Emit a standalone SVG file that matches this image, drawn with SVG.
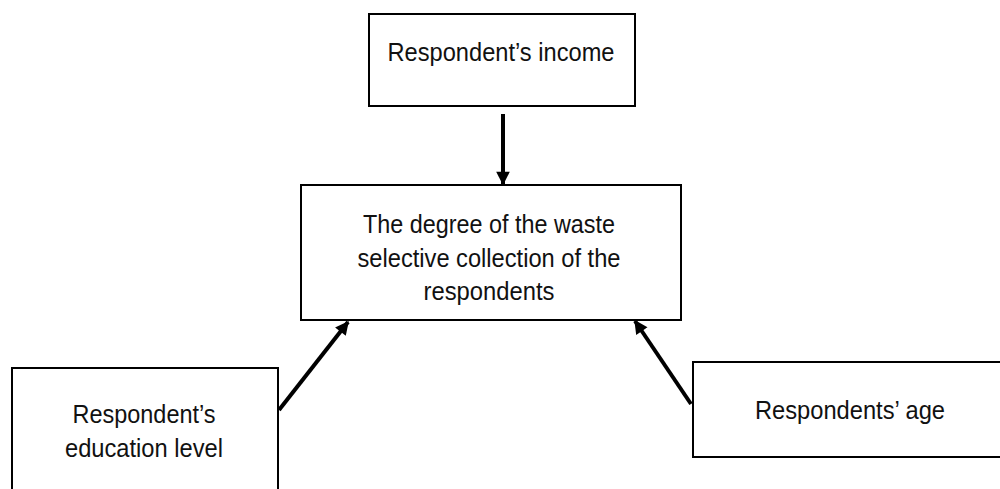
<svg xmlns="http://www.w3.org/2000/svg" width="1000" height="489" viewBox="0 0 1000 489">
<style>
.box{fill:#fff;stroke:#000;stroke-width:2}
.t{font-family:"Liberation Sans",Arial,sans-serif;font-size:26px;fill:#111;text-anchor:middle}
.c{stroke:#000;stroke-width:4;fill:none}
</style>
<defs>
<marker id="ah" viewBox="0 0 10 10" refX="9" refY="5" markerWidth="3.6" markerHeight="3.4" markerUnits="strokeWidth" orient="auto">
<path d="M0,0 L10,5 L0,10 z" fill="#000"/>
</marker>
</defs>
<rect width="1000" height="489" fill="#fff"/>
<g id="income">
<rect class="box" x="369" y="14" width="266" height="92"/>
<text class="t" x="501" y="61" textLength="227" lengthAdjust="spacingAndGlyphs">Respondent’s income</text>
</g>
<g id="degree">
<rect class="box" x="301" y="185" width="380" height="135"/>
<text class="t" x="489" y="233" textLength="252" lengthAdjust="spacingAndGlyphs">The degree of the waste</text>
<text class="t" x="489" y="267" textLength="263" lengthAdjust="spacingAndGlyphs">selective collection of the</text>
<text class="t" x="489" y="300" textLength="131" lengthAdjust="spacingAndGlyphs">respondents</text>
</g>
<g id="education">
<rect class="box" x="12" y="368" width="266" height="130"/>
<text class="t" x="144" y="423" textLength="143" lengthAdjust="spacingAndGlyphs">Respondent’s</text>
<text class="t" x="144" y="457" textLength="158" lengthAdjust="spacingAndGlyphs">education level</text>
</g>
<g id="age">
<rect class="box" x="693" y="362" width="320" height="95"/>
<text class="t" x="850" y="419" textLength="190" lengthAdjust="spacingAndGlyphs">Respondents’ age</text>
</g>
<g id="connectors">
<line class="c" x1="503" y1="114" x2="503" y2="184" marker-end="url(#ah)"/>
<line class="c" x1="279" y1="410" x2="348" y2="322" marker-end="url(#ah)"/>
<line class="c" x1="691" y1="404" x2="635" y2="321" marker-end="url(#ah)"/>
</g>
</svg>
